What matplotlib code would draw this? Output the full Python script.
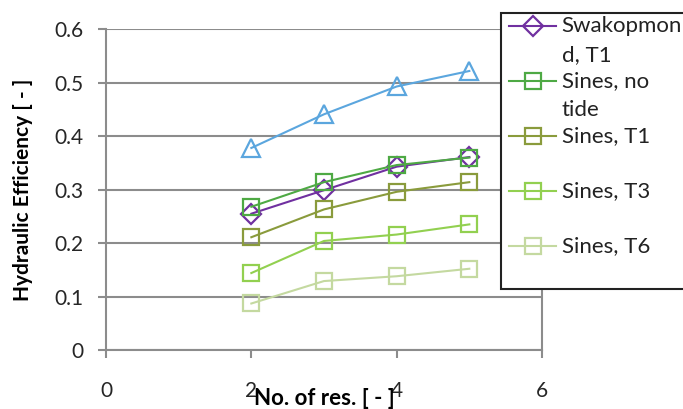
import numpy as np
import matplotlib
matplotlib.use("Agg")
import matplotlib.pyplot as plt
from matplotlib.lines import Line2D
from matplotlib.patches import Rectangle

plt.rcParams['font.family'] = ['Lato', 'DejaVu Sans']

# data
n_res = [2, 3, 4, 5]
swakop_t1 = [0.255, 0.299, 0.343, 0.361]
sines_notide = [0.268, 0.314, 0.346, 0.360]
sines_t1 = [0.211, 0.263, 0.296, 0.314]
sines_t3 = [0.144, 0.204, 0.216, 0.235]
sines_t6 = [0.087, 0.129, 0.138, 0.152]
blue_tri = [0.378, 0.441, 0.493, 0.522]   # no legend entry (cut off)

labels = ["Swakopmon\nd, T1", "Sines, no\ntide", "Sines, T1", "Sines, T3", "Sines, T6"]
series = [swakop_t1, sines_notide, sines_t1, sines_t3, sines_t6]
colors = ["#7030A0", "#4EA944", "#8A9B3C", "#92D050", "#C4D9A0"]
markers = ["D", "s", "s", "s", "s"]
x_ticks = [0, 2, 4, 6]
y_ticks = [0, 0.1, 0.2, 0.3, 0.4, 0.5, 0.6]

grey = "#8C8C8C"
W, H = 683, 409
fig = plt.figure(figsize=(W / 100, H / 100), dpi=100)
ax = fig.add_axes([106 / W, (H - 350) / H, 436 / W, 320.7 / H])

ax.plot(n_res, blue_tri, color="#5BA6DE", lw=1.5, marker="^", ms=13,
        mfc="none", mec="#5BA6DE", mew=1.6)
for vals, c, m in zip(series, colors, markers):
    ax.plot(n_res, vals, color=c, lw=1.5, marker=m, ms=12 if m == "s" else 10,
            mfc="none", mec=c, mew=1.6)

ax.set_xlim(0, 6)
ax.set_ylim(0, 0.6)
ax.set_xticks(x_ticks)
ax.set_yticks(y_ticks)
ax.set_yticklabels(["0", "0.1", "0.2", "0.3", "0.4", "0.5", "0.6"])
ax.grid(axis="y", color=grey, lw=1.5)
ax.set_axisbelow(True)
for s in ax.spines.values():
    s.set_color(grey)
    s.set_linewidth(1.5)
ax.spines["top"].set_visible(False)
ax.tick_params(axis="y", length=6, width=1.5, color=grey, labelsize=15, pad=10)
ax.tick_params(axis="x", length=6, width=1.5, color=grey, labelsize=15, pad=16)
for t in ax.get_xticklabels() + ax.get_yticklabels():
    t.set_color("#262626")

# the axis title sits on top of the tick labels, as in the original
ax.set_xlabel("No. of res. [ - ]", fontsize=16, fontweight="bold")
ax.xaxis.set_label_coords(0.5, -0.12)
ax.set_ylabel("Hydraulic Efficiency [ - ]", fontsize=15, fontweight="bold")
ax.yaxis.set_label_coords(-0.168, 0.5)

# legend box, cut off at the right edge like the original
fig.add_artist(Rectangle((500.7 / W, (H - 289.3) / H), 0.4, 276.6 / H,
                         transform=fig.transFigure, facecolor="white",
                         edgecolor="#222222", lw=1.5, zorder=5))
for i, (lab, c, m) in enumerate(zip(labels, colors, markers)):
    yp = 26 + 55 * i
    fy = (H - yp) / H
    fig.add_artist(Line2D([509 / W, 556 / W], [fy, fy], transform=fig.transFigure,
                          color=c, lw=1.5, zorder=6))
    fig.add_artist(Line2D([532.5 / W], [fy], transform=fig.transFigure, color=c,
                          marker=m, ms=12 if m == "s" else 10, mfc="none", mec=c,
                          mew=1.6, zorder=6))
    for j, line in enumerate(lab.split("\n")):
        fig.text(561.7 / W, (H - yp - 29.5 * j) / H, line, fontsize=16,
                 va="center", ha="left", color="#222222", zorder=7)

fig.savefig("out.png", dpi=100)
